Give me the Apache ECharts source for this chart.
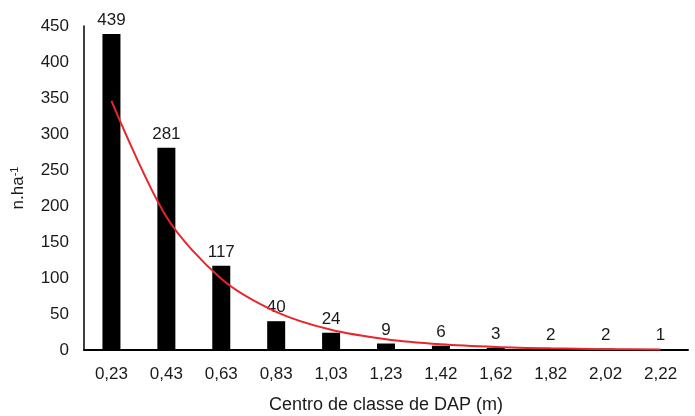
<!DOCTYPE html>
<html>
<head>
<meta charset="utf-8">
<script src="https://cdn.jsdelivr.net/npm/echarts@6/dist/echarts.min.js"></script>
<style>
  html, body { margin: 0; padding: 0; background: #fff; }
  #chart { width: 695px; height: 416px; }
</style>
</head>
<body>
<div id="chart"></div>
<script>
// Diameter class centres (m) and trees per hectare
const classCentres = ['0,23', '0,43', '0,63', '0,83', '1,03', '1,23', '1,42', '1,62', '1,82', '2,02', '2,22'];
const treesPerHa = [439, 281, 117, 40, 24, 9, 6, 3, 2, 2, 1];
// Exponential trend curve values at each class centre
const trendValues = [346, 185, 99, 53, 28, 15, 8, 4.3, 2.3, 1.2, 0.7];
const yTicks = { min: 0, max: 450, step: 50 };

const font = 'Liberation Sans, Arial, sans-serif';
const textColor = '#1a1a1a';
const chart = echarts.init(document.getElementById('chart'));
chart.setOption({
  animation: false,
  grid: { left: 84, right: 7, top: 26, bottom: 66, outerBoundsMode: 'none', containLabel: false },
  xAxis: {
    type: 'category',
    data: classCentres,
    name: 'Centro de classe de DAP (m)',
    nameLocation: 'middle',
    nameGap: 46,
    nameTextStyle: { fontFamily: font, fontSize: 18, color: textColor },
    axisLine: { lineStyle: { color: '#000', width: 2 } },
    axisTick: { show: false },
    axisLabel: { fontFamily: font, fontSize: 17, color: textColor, margin: 16 }
  },
  yAxis: {
    type: 'value',
    min: yTicks.min,
    max: yTicks.max,
    interval: yTicks.step,
    name: '{b|n.ha}{s|-1}',
    nameLocation: 'middle',
    nameGap: 56,
    nameRotate: 90,
    nameTextStyle: {
      rich: {
        b: { fontFamily: font, fontSize: 17, color: textColor },
        s: { fontFamily: font, fontSize: 11, color: textColor, verticalAlign: 'top', padding: [0, 0, 8, 0] }
      }
    },
    axisLine: { show: true, lineStyle: { color: '#000', width: 1.5 } },
    axisTick: { show: false },
    splitLine: { show: false },
    axisLabel: { fontFamily: font, fontSize: 17, color: textColor, margin: 15 }
  },
  series: [
    {
      type: 'bar',
      data: treesPerHa,
      barWidth: 18,
      itemStyle: { color: '#000' },
      label: {
        show: true,
        position: 'top',
        distance: 5,
        fontFamily: font,
        fontSize: 17,
        color: textColor
      }
    },
    {
      type: 'line',
      data: trendValues,
      smooth: 0.3,
      showSymbol: false,
      lineStyle: { color: '#e8262b', width: 2 },
      z: 3
    }
  ]
});
</script>
</body>
</html>
